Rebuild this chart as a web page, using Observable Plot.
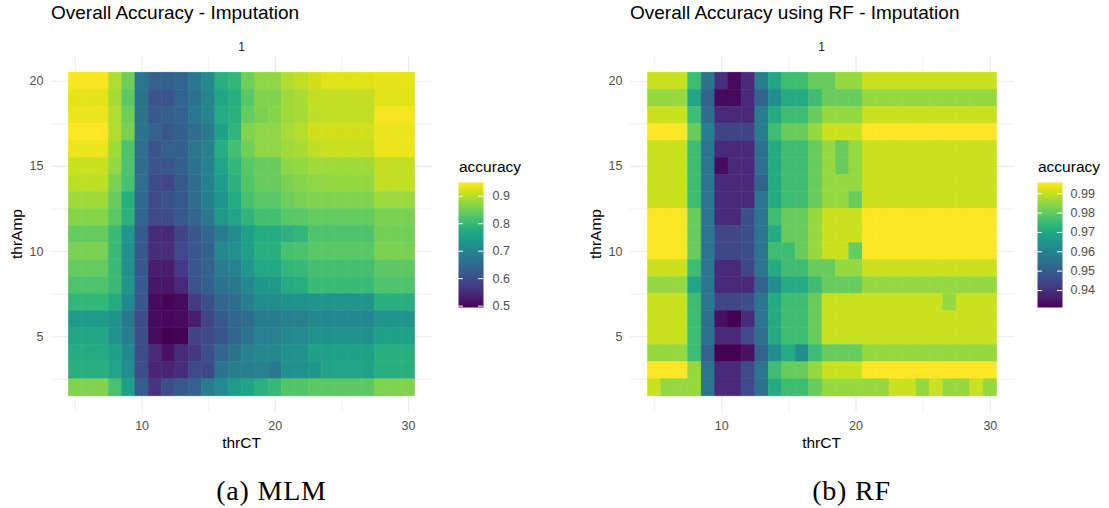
<!DOCTYPE html>
<html>
<head>
<meta charset="utf-8">
<script src="https://cdn.jsdelivr.net/npm/d3@7"></script>
<script src="https://cdn.jsdelivr.net/npm/@observablehq/plot@0.6"></script>
<style>
  html, body { margin: 0; padding: 0; background: #fff; }
  body { width: 1109px; height: 508px; position: relative; overflow: hidden;
         font-family: "Liberation Sans", Arial, Helvetica, sans-serif; }
  .layer { position: absolute; overflow: visible; }
</style>
</head>
<body>
<script>
// Grid of thresholds
const thrCT = [5, 6, 7, 8, 9, 10, 11, 12, 13, 14, 15, 16, 17, 18, 19, 20, 21, 22, 23, 24, 25, 26, 27, 28, 29, 30];
const thrAmp = [20, 19, 18, 17, 16, 15, 14, 13, 12, 11, 10, 9, 8, 7, 6, 5, 4, 3, 2];

// Overall accuracy of the MLM imputation, one row per thrAmp (20 -> 2), columns thrCT 5 -> 30
const mlmAccuracy = [
  [0.945,0.945,0.945,0.895,0.850,0.672,0.636,0.632,0.641,0.677,0.709,0.782,0.795,0.850,0.873,0.873,0.895,0.909,0.918,0.927,0.927,0.927,0.927,0.932,0.932,0.932],
  [0.932,0.932,0.932,0.891,0.836,0.668,0.613,0.613,0.641,0.663,0.700,0.763,0.782,0.832,0.864,0.864,0.886,0.891,0.909,0.909,0.909,0.909,0.909,0.927,0.927,0.927],
  [0.936,0.936,0.936,0.895,0.850,0.668,0.622,0.632,0.636,0.677,0.700,0.773,0.786,0.841,0.859,0.868,0.886,0.891,0.905,0.909,0.909,0.909,0.909,0.943,0.943,0.943],
  [0.950,0.950,0.950,0.895,0.859,0.668,0.636,0.618,0.632,0.654,0.677,0.754,0.791,0.864,0.873,0.873,0.891,0.900,0.918,0.918,0.918,0.918,0.918,0.936,0.936,0.936],
  [0.936,0.936,0.936,0.886,0.823,0.659,0.613,0.632,0.632,0.672,0.695,0.777,0.814,0.850,0.873,0.873,0.886,0.891,0.905,0.911,0.911,0.911,0.911,0.936,0.936,0.936],
  [0.914,0.914,0.914,0.877,0.823,0.654,0.613,0.613,0.632,0.663,0.691,0.759,0.795,0.832,0.845,0.845,0.873,0.877,0.886,0.886,0.886,0.886,0.886,0.909,0.909,0.909],
  [0.905,0.905,0.905,0.859,0.818,0.659,0.600,0.586,0.622,0.654,0.691,0.745,0.786,0.827,0.845,0.845,0.859,0.868,0.873,0.877,0.877,0.877,0.877,0.909,0.909,0.909],
  [0.886,0.886,0.886,0.845,0.782,0.650,0.595,0.609,0.622,0.654,0.691,0.732,0.773,0.818,0.832,0.832,0.850,0.859,0.864,0.864,0.864,0.864,0.864,0.882,0.882,0.882],
  [0.868,0.868,0.868,0.836,0.786,0.641,0.595,0.600,0.622,0.645,0.677,0.741,0.759,0.791,0.814,0.814,0.832,0.834,0.841,0.841,0.841,0.841,0.841,0.859,0.859,0.859],
  [0.841,0.841,0.841,0.804,0.736,0.622,0.550,0.550,0.586,0.618,0.645,0.682,0.713,0.750,0.773,0.773,0.786,0.795,0.823,0.823,0.823,0.823,0.823,0.854,0.854,0.854],
  [0.859,0.859,0.859,0.804,0.723,0.618,0.554,0.554,0.595,0.618,0.636,0.709,0.723,0.750,0.782,0.782,0.818,0.820,0.832,0.832,0.832,0.832,0.832,0.859,0.859,0.859],
  [0.841,0.841,0.841,0.804,0.723,0.618,0.531,0.531,0.572,0.618,0.636,0.682,0.695,0.736,0.768,0.768,0.795,0.800,0.814,0.814,0.814,0.814,0.814,0.836,0.836,0.836],
  [0.823,0.823,0.823,0.804,0.732,0.622,0.522,0.522,0.550,0.609,0.632,0.668,0.677,0.709,0.736,0.741,0.773,0.782,0.804,0.804,0.804,0.804,0.804,0.823,0.823,0.823],
  [0.795,0.795,0.795,0.773,0.709,0.618,0.509,0.500,0.509,0.572,0.604,0.645,0.654,0.686,0.718,0.718,0.727,0.727,0.732,0.732,0.732,0.732,0.732,0.782,0.782,0.782],
  [0.745,0.745,0.745,0.727,0.677,0.600,0.509,0.504,0.509,0.531,0.586,0.622,0.645,0.654,0.682,0.682,0.691,0.691,0.709,0.709,0.709,0.709,0.709,0.732,0.732,0.732],
  [0.763,0.763,0.763,0.727,0.686,0.600,0.509,0.495,0.495,0.586,0.595,0.613,0.645,0.668,0.691,0.691,0.713,0.713,0.727,0.727,0.727,0.727,0.727,0.754,0.754,0.754],
  [0.773,0.773,0.773,0.754,0.709,0.600,0.550,0.513,0.550,0.568,0.604,0.645,0.668,0.695,0.709,0.709,0.727,0.727,0.754,0.754,0.754,0.754,0.754,0.782,0.782,0.782],
  [0.782,0.782,0.782,0.759,0.718,0.604,0.541,0.541,0.554,0.595,0.595,0.668,0.686,0.686,0.695,0.677,0.723,0.723,0.736,0.759,0.759,0.759,0.759,0.782,0.782,0.782],
  [0.864,0.864,0.864,0.818,0.750,0.627,0.563,0.600,0.622,0.636,0.682,0.713,0.745,0.759,0.786,0.800,0.827,0.827,0.836,0.836,0.836,0.836,0.836,0.864,0.864,0.864]
];

// Overall accuracy of the random-forest imputation, same layout
const rfAccuracy = [
  [0.9906,0.9906,0.9906,0.9758,0.9557,0.9402,0.9331,0.9390,0.9583,0.9693,0.9758,0.9758,0.9809,0.9809,0.9855,0.9855,0.9906,0.9906,0.9906,0.9906,0.9906,0.9906,0.9906,0.9906,0.9906,0.9906],
  [0.9855,0.9855,0.9855,0.9693,0.9512,0.9331,0.9331,0.9390,0.9512,0.9629,0.9706,0.9706,0.9758,0.9809,0.9809,0.9809,0.9855,0.9855,0.9855,0.9855,0.9855,0.9855,0.9855,0.9855,0.9855,0.9855],
  [0.9906,0.9906,0.9906,0.9758,0.9538,0.9390,0.9390,0.9390,0.9583,0.9706,0.9758,0.9758,0.9809,0.9855,0.9855,0.9855,0.9906,0.9906,0.9906,0.9906,0.9906,0.9906,0.9906,0.9906,0.9906,0.9906],
  [0.9958,0.9958,0.9958,0.9809,0.9583,0.9441,0.9441,0.9441,0.9583,0.9758,0.9809,0.9809,0.9855,0.9906,0.9906,0.9906,0.9958,0.9958,0.9958,0.9958,0.9958,0.9958,0.9958,0.9958,0.9958,0.9958],
  [0.9906,0.9906,0.9906,0.9758,0.9564,0.9390,0.9390,0.9390,0.9545,0.9706,0.9758,0.9758,0.9809,0.9855,0.9809,0.9855,0.9906,0.9906,0.9906,0.9906,0.9906,0.9906,0.9906,0.9906,0.9906,0.9906],
  [0.9906,0.9906,0.9906,0.9758,0.9564,0.9331,0.9390,0.9390,0.9545,0.9706,0.9758,0.9758,0.9809,0.9855,0.9809,0.9855,0.9906,0.9906,0.9906,0.9906,0.9906,0.9906,0.9906,0.9906,0.9906,0.9906],
  [0.9906,0.9906,0.9906,0.9758,0.9564,0.9390,0.9390,0.9390,0.9512,0.9706,0.9758,0.9758,0.9809,0.9855,0.9855,0.9855,0.9906,0.9906,0.9906,0.9906,0.9906,0.9906,0.9906,0.9906,0.9906,0.9906],
  [0.9906,0.9906,0.9906,0.9758,0.9564,0.9390,0.9390,0.9390,0.9564,0.9706,0.9758,0.9758,0.9809,0.9855,0.9855,0.9809,0.9906,0.9906,0.9906,0.9906,0.9906,0.9906,0.9906,0.9906,0.9906,0.9906],
  [0.9958,0.9958,0.9958,0.9809,0.9564,0.9390,0.9390,0.9467,0.9564,0.9758,0.9809,0.9809,0.9855,0.9906,0.9906,0.9906,0.9958,0.9958,0.9958,0.9958,0.9958,0.9958,0.9958,0.9958,0.9958,0.9958],
  [0.9958,0.9958,0.9958,0.9809,0.9564,0.9448,0.9448,0.9467,0.9564,0.9706,0.9809,0.9809,0.9855,0.9906,0.9906,0.9906,0.9958,0.9958,0.9958,0.9958,0.9958,0.9958,0.9958,0.9958,0.9958,0.9958],
  [0.9958,0.9958,0.9958,0.9809,0.9564,0.9448,0.9448,0.9467,0.9564,0.9758,0.9758,0.9809,0.9855,0.9906,0.9906,0.9809,0.9958,0.9958,0.9958,0.9958,0.9958,0.9958,0.9958,0.9958,0.9958,0.9958],
  [0.9906,0.9906,0.9906,0.9758,0.9564,0.9390,0.9390,0.9448,0.9564,0.9706,0.9758,0.9758,0.9809,0.9809,0.9855,0.9855,0.9906,0.9906,0.9906,0.9906,0.9906,0.9906,0.9906,0.9906,0.9906,0.9906],
  [0.9855,0.9855,0.9855,0.9693,0.9564,0.9390,0.9390,0.9390,0.9512,0.9629,0.9706,0.9706,0.9758,0.9809,0.9809,0.9809,0.9855,0.9855,0.9855,0.9855,0.9855,0.9855,0.9855,0.9855,0.9855,0.9855],
  [0.9906,0.9906,0.9906,0.9758,0.9564,0.9448,0.9448,0.9467,0.9564,0.9706,0.9758,0.9758,0.9809,0.9906,0.9906,0.9906,0.9906,0.9906,0.9906,0.9906,0.9906,0.9906,0.9855,0.9906,0.9906,0.9906],
  [0.9906,0.9906,0.9906,0.9758,0.9545,0.9338,0.9312,0.9390,0.9564,0.9706,0.9758,0.9758,0.9809,0.9906,0.9906,0.9906,0.9906,0.9906,0.9906,0.9906,0.9906,0.9906,0.9906,0.9906,0.9906,0.9906],
  [0.9906,0.9906,0.9906,0.9758,0.9545,0.9390,0.9390,0.9454,0.9545,0.9706,0.9758,0.9758,0.9809,0.9906,0.9906,0.9906,0.9906,0.9906,0.9906,0.9906,0.9906,0.9906,0.9906,0.9906,0.9906,0.9906],
  [0.9855,0.9855,0.9855,0.9758,0.9512,0.9312,0.9312,0.9338,0.9512,0.9629,0.9706,0.9629,0.9758,0.9809,0.9809,0.9809,0.9855,0.9855,0.9855,0.9855,0.9855,0.9855,0.9855,0.9855,0.9855,0.9855],
  [0.9958,0.9958,0.9958,0.9855,0.9564,0.9390,0.9390,0.9454,0.9564,0.9758,0.9809,0.9809,0.9855,0.9906,0.9906,0.9906,0.9958,0.9958,0.9958,0.9958,0.9958,0.9958,0.9958,0.9958,0.9958,0.9958],
  [0.9906,0.9855,0.9855,0.9855,0.9564,0.9390,0.9390,0.9454,0.9545,0.9706,0.9758,0.9758,0.9809,0.9855,0.9855,0.9855,0.9855,0.9855,0.9906,0.9906,0.9855,0.9906,0.9855,0.9855,0.9906,0.9855]
];

// Axis and colour-bar tick labels
const xTicks = [10, 20, 30];
const xMinorTicks = [5, 15, 25];
const yTicks = [5, 10, 15, 20];
const yMinorTicks = [2.5, 7.5, 12.5, 17.5];
const mlmLegendTicks = [0.5, 0.6, 0.7, 0.8, 0.9];
const rfLegendTicks = [0.94, 0.95, 0.96, 0.97, 0.98, 0.99];

const panelTitles = ["Overall Accuracy - Imputation", "Overall Accuracy using RF - Imputation"];
const captions = ["(a) MLM", "(b) RF"];

const FONT = "'Liberation Sans', Arial, Helvetica, sans-serif";
const GRID = "#EBEBEB";
const AXIS_TEXT = "#4D4D4D";

function cells(rows) {
  return thrAmp.flatMap((amp, i) => thrCT.map((ct, j) => ({thrCT: ct, thrAmp: amp, accuracy: rows[i][j]})));
}

function place(node, left, top) {
  node.classList.add("layer");
  node.style.left = left + "px";
  node.style.top = top + "px";
  document.body.appendChild(node);
  return node;
}

// One faceted heatmap panel (tiles + grid + axes)
function heatmap(rows, width, marginRight) {
  const data = cells(rows);
  return Plot.plot({
    width,
    height: 460,
    marginTop: 56,
    marginBottom: 48,
    marginLeft: 51,
    marginRight,
    style: {fontFamily: FONT, fontSize: "12.5px", color: AXIS_TEXT, background: "transparent", overflow: "visible"},
    x: {domain: [3.2, 31.8]},
    y: {domain: [0.55, 21.45]},
    color: {type: "linear", scheme: "viridis", domain: d3.extent(data, d => d.accuracy)},
    marks: [
      Plot.gridX(xMinorTicks, {stroke: GRID, strokeOpacity: 1, strokeWidth: 0.7}),
      Plot.gridX(xTicks, {stroke: GRID, strokeOpacity: 1, strokeWidth: 1.1}),
      Plot.gridY(yMinorTicks, {stroke: GRID, strokeOpacity: 1, strokeWidth: 0.7}),
      Plot.gridY(yTicks, {stroke: GRID, strokeOpacity: 1, strokeWidth: 1.1}),
      Plot.rect(data, {
        x1: d => d.thrCT - 0.5, x2: d => d.thrCT + 0.5,
        y1: d => d.thrAmp - 0.5, y2: d => d.thrAmp + 0.5,
        fill: "accuracy", stroke: "accuracy", strokeWidth: 0.5
      }),
      Plot.axisX(xTicks, {tickSize: 0, tickPadding: 9, label: null}),
      Plot.axisY(yTicks, {tickSize: 0, tickPadding: 8, label: null})
    ]
  });
}

// Vertical colour bar in the ggplot style
function colorbar(rows, ticks, width, padding) {
  const domain = d3.extent(rows.flat());
  return Plot.plot({
    width,
    height: 125,
    marginTop: 0, marginBottom: 0, marginLeft: 0,
    marginRight: width - 25,
    style: {fontFamily: FONT, fontSize: "12.5px", color: AXIS_TEXT, background: "transparent", overflow: "visible"},
    x: {domain: [0, 1], axis: null},
    y: {domain},
    color: {type: "linear", scheme: "viridis", domain},
    marks: [
      Plot.raster({x1: 0, x2: 1, y1: domain[0], y2: domain[1], width: 1, height: 250, fill: (x, y) => y}),
      Plot.ruleY(ticks, {x1: 0, x2: 0.2, stroke: "white", strokeWidth: 1}),
      Plot.ruleY(ticks, {x1: 0.8, x2: 1, stroke: "white", strokeWidth: 1}),
      Plot.axisY(ticks, {anchor: "right", tickSize: 0, tickPadding: padding, label: null})
    ]
  });
}

place(heatmap(mlmAccuracy, 555, 123), 0, 0);
place(heatmap(rfAccuracy, 530, 95), 579, 0);
place(colorbar(mlmAccuracy, mlmLegendTicks, 80, 9), 458, 182);
place(colorbar(rfAccuracy, rfLegendTicks, 70, 8), 1037, 182);

// Titles, strip labels, axis titles, legend titles and sub-figure captions
const svg = d3.create("svg")
  .attr("width", 1109).attr("height", 508)
  .style("font-family", FONT);
place(svg.node(), 0, 0);
svg.style("pointer-events", "none");

const panels = [
  {left: 51, right: 432, legendX: 459},
  {left: 630, right: 1013, legendX: 1038}
];
panels.forEach((p, i) => {
  const cx = (p.left + p.right) / 2;
  svg.append("text").attr("x", p.left).attr("y", 18.5)
    .attr("font-size", 19).attr("fill", "#000").text(panelTitles[i]);
  svg.append("text").attr("x", cx).attr("y", 50.5).attr("text-anchor", "middle")
    .attr("font-size", 12).attr("fill", "#1A1A1A").text("1");
  svg.append("text").attr("x", cx).attr("y", 448).attr("text-anchor", "middle")
    .attr("font-size", 15.5).attr("fill", "#000").text("thrCT");
  svg.append("text").attr("transform", `translate(${p.left - 29},234) rotate(-90)`)
    .attr("text-anchor", "middle").attr("font-size", 15.5).attr("fill", "#000").text("thrAmp");
  svg.append("text").attr("x", p.legendX).attr("y", 172)
    .attr("font-size", 15.5).attr("fill", "#000").text("accuracy");
  svg.append("text").attr("x", cx + 30).attr("y", 500).attr("text-anchor", "middle")
    .attr("font-family", "'Liberation Serif', 'DejaVu Serif', serif")
    .attr("font-size", 28).attr("letter-spacing", 0.8).attr("fill", "#000").text(captions[i]);
});
</script>
</body>
</html>
